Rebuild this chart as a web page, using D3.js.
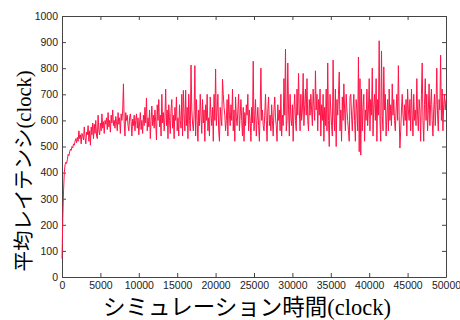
<!DOCTYPE html>
<html>
<head>
<meta charset="utf-8">
<script src="https://cdn.jsdelivr.net/npm/d3@7"></script>
<style>
  body { margin: 0; background: #fff; }
  .axis text { font-family: "Liberation Sans", Arial, sans-serif; font-size: 10.5px; fill: #222; }
  .axis path, .axis line { stroke: #444; }
  .label { fill: #000; }
  .jp { font-family: "Noto Sans CJK JP", sans-serif; }
  .en { font-family: "Liberation Serif", "Times New Roman", serif; }
</style>
</head>
<body>
<svg class="latency-svg" width="460" height="320"></svg>
<script>
// simulation time (clock) for each sample: 0, 100, 200, ... 50000
var step = 100;

// average latency (clock), one value per sample
var latency = [70,
  220, 330, 400, 430, 440, 435, 450, 470, 465, 480,
  490, 485, 500, 495, 510, 505, 520, 530, 515, 535,
  520, 560, 530, 545, 510, 550, 540, 525, 575, 535,
  510, 555, 545, 580, 520, 560, 505, 575, 545, 590,
  530, 585, 550, 600, 540, 530, 620, 560, 545, 590,
  560, 625, 570, 595, 550, 600, 585, 610, 565, 630,
  575, 600, 555, 620, 590, 640, 580, 600, 570, 615,
  595, 560, 630, 585, 610, 550, 625, 600, 640, 740,
  590, 540, 630, 600, 620, 580, 560, 610, 625, 595,
  540, 605, 580, 620, 560, 600, 625, 570, 610, 545,
  590, 630, 565, 600, 550, 620, 580, 650, 590, 686,
  560, 610, 575, 640, 530, 600, 655, 580, 620, 570,
  640, 595, 525, 660, 600, 680, 575, 620, 540, 700,
  590, 630, 560, 610, 720, 580, 640, 530, 660, 600,
  550, 640, 680, 570, 620, 530, 650, 600, 690, 560,
  610, 540, 660, 600, 570, 700, 540, 715, 620, 560,
  716, 580, 650, 530, 700, 600, 560, 812, 640, 590,
  560, 620, 810, 540, 680, 600, 520, 640, 580, 700,
  620, 550, 680, 590, 640, 520, 660, 600, 700, 560,
  610, 540, 690, 620, 580, 650, 520, 700, 600, 797,
  580, 640, 700, 560, 520, 650, 610, 580, 758, 700,
  650, 620, 560, 600, 680, 540, 700, 620, 580, 660,
  600, 720, 560, 640, 520, 690, 610, 580, 640, 700,
  560, 620, 680, 600, 540, 650, 520, 630, 580, 660,
  620, 700, 560, 640, 600, 520, 650, 590, 827, 560,
  620, 680, 540, 600, 650, 580, 520, 640, 800, 600,
  640, 580, 560, 620, 700, 600, 520, 640, 690, 580,
  620, 560, 660, 600, 540, 640, 690, 610, 580, 520,
  660, 600, 640, 560, 700, 540, 620, 580, 760, 620,
  873, 560, 600, 820, 640, 540, 700, 610, 580, 660,
  520, 640, 700, 600, 560, 720, 620, 780, 640, 560,
  700, 600, 640, 780, 580, 660, 720, 620, 760, 600,
  560, 680, 620, 700, 640, 580, 720, 650, 600, 790,
  640, 700, 560, 680, 620, 720, 540, 660, 600, 700,
  520, 650, 580, 720, 560, 820, 600, 500, 700, 640,
  580, 540, 831, 620, 560, 720, 500, 680, 620, 700,
  785, 560, 640, 520, 690, 600, 740, 640, 560, 700,
  640, 600, 560, 520, 690, 700, 620, 560, 640, 700,
  600, 520, 680, 640, 560, 843, 480, 760, 467, 720,
  560, 650, 700, 520, 640, 600, 720, 580, 640, 760,
  560, 680, 620, 800, 540, 660, 700, 600, 760, 520,
  680, 620, 905, 600, 520, 866, 620, 560, 805, 640,
  700, 540, 620, 680, 560, 720, 600, 660, 580, 740,
  620, 680, 600, 560, 640, 700, 600, 810, 620, 494,
  560, 640, 700, 620, 580, 660, 600, 680, 540, 720,
  640, 600, 680, 560, 720, 620, 540, 700, 600, 640,
  580, 760, 620, 560, 680, 640, 520, 700, 820, 600,
  520, 660, 760, 600, 700, 560, 640, 740, 580, 660,
  720, 600, 540, 640, 700, 580, 660, 800, 620, 560,
  680, 640, 850, 600, 720, 560, 660, 700, 640, 680
];

var xTicks = [0, 5000, 10000, 15000, 20000, 25000, 30000, 35000, 40000, 45000, 50000];
var yTicks = [0, 100, 200, 300, 400, 500, 600, 700, 800, 900, 1000];

var xTitle = "シミュレーション時間";
var yTitle = "平均レイテンシ";
var unit = "(clock)";

var svg = d3.select("svg.latency-svg");
var margin = { top: 16, right: 14, bottom: 43, left: 62 };
var width = +svg.attr("width") - margin.left - margin.right;
var height = +svg.attr("height") - margin.top - margin.bottom;

var xScale = d3.scaleLinear().domain([0, 50000]).range([0, width]);
var yScale = d3.scaleLinear().domain([0, 1000]).range([height, 0]);

var g = svg.append("g")
    .attr("transform", "translate(" + margin.left + "," + margin.top + ")");

// axes with inward ticks, mirrored on top and right
g.append("g")
    .attr("class", "axis axis-x")
    .attr("transform", "translate(0," + height + ")")
    .call(d3.axisBottom(xScale).tickValues(xTicks).tickFormat(d3.format("d"))
        .tickSizeInner(-4).tickSizeOuter(0).tickPadding(5));

g.append("g")
    .attr("class", "axis axis-y")
    .call(d3.axisLeft(yScale).tickValues(yTicks).tickFormat(d3.format("d"))
        .tickSizeInner(-4).tickSizeOuter(0).tickPadding(4));

g.append("g")
    .attr("class", "axis axis-top")
    .call(d3.axisTop(xScale).tickValues(xTicks).tickSizeInner(-4).tickSizeOuter(0).tickFormat(""));

g.append("g")
    .attr("class", "axis axis-right")
    .attr("transform", "translate(" + width + ",0)")
    .call(d3.axisRight(yScale).tickValues(yTicks).tickSizeInner(-4).tickSizeOuter(0).tickFormat(""));

var line = d3.line()
    .x(function (d, i) { return xScale(i * step); })
    .y(function (d) { return yScale(d); });

g.append("path")
    .datum(latency)
    .attr("fill", "none")
    .attr("stroke", "#ff1447")
    .attr("stroke-width", 1)
    .attr("stroke-linejoin", "round")
    .attr("d", line);

// axis titles: Japanese in sans, unit in serif
var xt = svg.append("text")
    .attr("class", "label")
    .attr("x", 247)
    .attr("y", 315)
    .attr("font-size", 22.5)
    .attr("text-anchor", "middle");
xt.append("tspan").attr("class", "jp").text(xTitle);
xt.append("tspan").attr("class", "en").text(unit);

var yt = svg.append("text")
    .attr("class", "label")
    .attr("transform", "translate(31,171) rotate(-90)")
    .attr("font-size", 20.5)
    .attr("text-anchor", "middle");
yt.append("tspan").attr("class", "jp").text(yTitle);
yt.append("tspan").attr("class", "en").text(unit);
</script>
</body>
</html>
